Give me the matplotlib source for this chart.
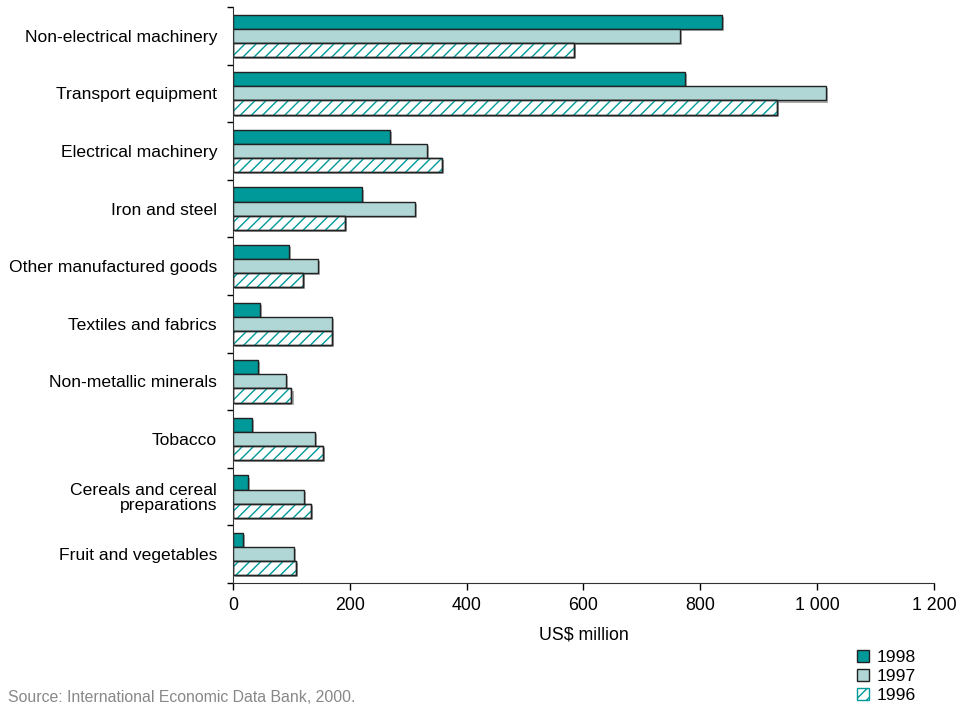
import numpy as np
import matplotlib.pyplot as plt
import matplotlib.patheffects as pe
from matplotlib.patches import Patch
from matplotlib.ticker import FuncFormatter

plt.rcParams['font.family'] = ['Liberation Sans', 'DejaVu Sans']

# категории и значения (US$ million)
categories = ["Non-electrical machinery", "Transport equipment", "Electrical machinery",
              "Iron and steel", "Other manufactured goods", "Textiles and fabrics",
              "Non-metallic minerals", "Tobacco", "Cereals and cereal\npreparations",
              "Fruit and vegetables"]
v1998 = [837, 774, 269, 220, 96, 46, 42, 33, 25, 17]
v1997 = [765, 1015, 332, 312, 146, 170, 91, 141, 121, 105]
v1996 = [584, 931, 357, 191, 120, 170, 100, 154, 134, 108]
years = ["1998", "1997", "1996"]

teal = '#009999'
light = '#b0d6d6'

fig = plt.figure(figsize=(9.62, 7.05), dpi=100)
ax = fig.add_axes([233/962, 1 - 583/705, 701/962, 576/705])

y = np.arange(len(categories))
h = 0.245
shadow = [pe.SimplePatchShadow(offset=(1.5, -1.5), shadow_rgbFace='#999999', alpha=0.8), pe.Normal()]

ax.barh(y - h, v1998, height=h, color=teal, edgecolor='#222222', linewidth=1, path_effects=shadow)
ax.barh(y, v1997, height=h, color=light, edgecolor='#222222', linewidth=1, path_effects=shadow)
# 1996: белый фон с бирюзовой штриховкой
ax.barh(y + h, v1996, height=h, color='white', edgecolor='#222222', linewidth=1, path_effects=shadow)
ax.barh(y + h, v1996, height=h, color='none', edgecolor=teal, linewidth=0, hatch='///')
ax.barh(y + h, v1996, height=h, color='none', edgecolor='#222222', linewidth=1)

ax.set_ylim(len(categories) - 0.5, -0.5)
ax.set_xlim(0, 1200)
ax.set_yticks(y)
ax.set_yticklabels(categories, fontsize=12.6, linespacing=1.0)
ax.set_yticks(np.arange(len(categories) + 1) - 0.5, minor=True)
ax.tick_params(axis='y', which='major', length=0, pad=11.5)
ax.tick_params(axis='y', which='minor', length=4, width=1, direction='out')

ax.set_xticks(np.arange(0, 1201, 200))
ax.xaxis.set_major_formatter(FuncFormatter(lambda v, p: f"{int(v):,}".replace(",", " ")))
ax.tick_params(axis='x', length=5, width=1, direction='out', labelsize=12.8, pad=5)
ax.set_xlabel('US$ million', fontsize=12.8, labelpad=9)

for s in ['top', 'right']:
    ax.spines[s].set_visible(False)
for s in ['left', 'bottom']:
    ax.spines[s].set_color('#333333')

handles = [Patch(facecolor=teal, edgecolor='#222222'),
           Patch(facecolor=light, edgecolor='#222222'),
           Patch(facecolor='white', edgecolor=teal, hatch='///')]
leg = fig.legend(handles, years, loc='upper left', bbox_to_anchor=(848/962, 1 - 641/705),
                 frameon=False, fontsize=12.6, handlelength=0.7, handleheight=0.7,
                 handletextpad=0.45, labelspacing=0.22, borderpad=0)

fig.text(8/962, 1 - 697/705, 'Source: International Economic Data Bank, 2000.',
         fontsize=11.4, color='#888888', va='center')

fig.savefig('out.png', dpi=100)
